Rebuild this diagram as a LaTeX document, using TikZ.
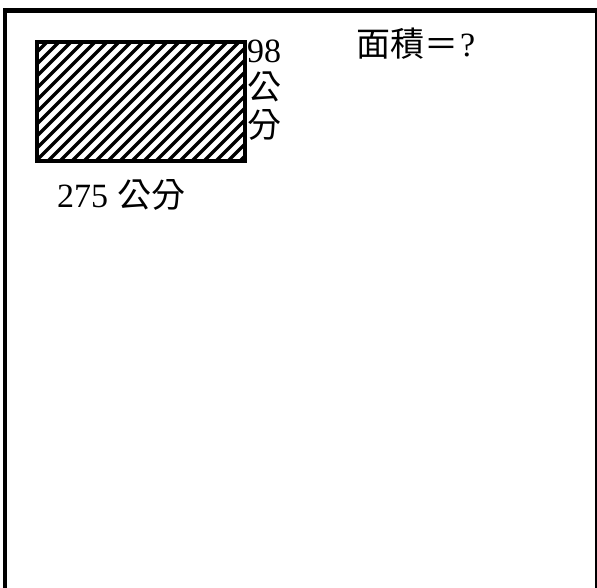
\documentclass[tikz,border=0pt]{standalone}
\usepackage{fontspec}
\setmainfont{Liberation Serif}
\newfontfamily\cjk{Noto Sans CJK TC}
\begin{document}
\begin{tikzpicture}[x=1pt,y=-1pt,
  txt/.style={inner sep=0pt,outer sep=0pt,font=\fontsize{34}{40}\selectfont},
  hatchline/.style={line width=3.5pt,black},
  boxframe/.style={line width=4pt,black},
  outerframe/.style={line width=4.5pt,black}]
\useasboundingbox (0,0) rectangle (597,587);
\clip (0,0) rectangle (597,587);
% outer frame (bottom and right parts lie beyond the picture)
\draw[outerframe] (5,10.5) rectangle (597.5,600);
% hatched rectangle
\begin{scope}
\clip (37,42) rectangle (245,161);
\foreach \a in {-96,-84,...,252} \draw[hatchline] (\a,161) -- ++(140,-140);
\end{scope}
\draw[boxframe] (37,42) rectangle (245,161);
% labels
\node[txt,anchor=base west] (h98) at (247,62) {98};
\node[txt,anchor=base west] (hgong) at (247,99) {\cjk 公};
\node[txt,anchor=base west] (hfen) at (247,137) {\cjk 分};
\node[txt,anchor=base west] (w275) at (57,207) {275\hspace{9pt}{\cjk 公分}};
\node[txt,anchor=base west] (area) at (356,56) {{\cjk 面積＝}\hspace{2pt}?};
\end{tikzpicture}
\end{document}
